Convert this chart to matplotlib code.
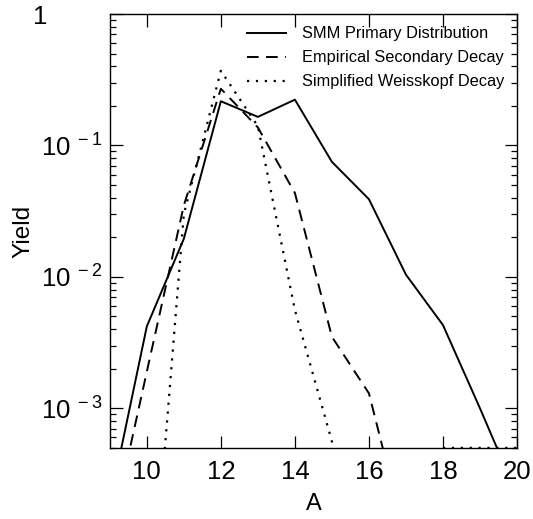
import numpy as np
import matplotlib
matplotlib.use("Agg")
import matplotlib.pyplot as plt
from matplotlib.ticker import FixedLocator, FixedFormatter, LogLocator, NullFormatter
from matplotlib.transforms import ScaledTranslation

plt.rcParams['font.family'] = ['Liberation Sans', 'DejaVu Sans']
plt.rcParams['mathtext.fontset'] = 'custom'
plt.rcParams['mathtext.rm'] = 'Liberation Sans'
plt.rcParams['mathtext.it'] = 'Liberation Sans'

# mass number A
A = [9, 10, 11, 12, 13, 14, 15, 16, 17, 18, 19, 20]
nan = np.nan
smm_primary = [1.9e-4, 4.2e-3, 1.95e-2, 0.217, 0.165, 0.223, 0.075, 0.039, 0.0104, 4.3e-3, 1.0e-3, 2.2e-4]
empirical = [1.0e-4, 1.9e-3, 0.035, 0.27, 0.137, 0.0435, 3.5e-3, 1.3e-3, 1.0e-4, nan, nan, nan]
weisskopf = [nan, 1.0e-5, 0.03, 0.37, 0.14, 5.6e-3, 5.6e-4, 1.0e-5, nan, 5e-4, 5e-4, 5e-4]

y_ticks = [1e-3, 1e-2, 1e-1, 1]
y_ticklabels = [r"$10^{\,\,-3}$", r"$10^{\,\,-2}$", r"$10^{\,\,-1}$", "1"]
x_ticks = [10, 12, 14, 16, 18, 20]

fig = plt.figure(figsize=(5.33, 5.19), dpi=100)
ax = fig.add_axes([0.206, 0.137, 0.764, 0.836])

lw = 1.4
ax.plot(A, smm_primary, color="black", linestyle="-", lw=lw, label="SMM Primary Distribution")
ax.plot(A, empirical, color="black", linestyle=(0, (6, 3.8)), lw=lw, label="Empirical Secondary Decay")
ax.plot(A, weisskopf, color="black", linestyle=(0, (1, 3.0)), lw=lw + 0.2, label="Simplified Weisskopf Decay")

ax.set_yscale("log")
ax.set_xlim(9, 20)
ax.set_ylim(5e-4, 1)

ax.xaxis.set_major_locator(FixedLocator(x_ticks))
ax.yaxis.set_major_locator(FixedLocator(y_ticks))
ax.yaxis.set_major_formatter(FixedFormatter(y_ticklabels))
ax.yaxis.set_minor_locator(LogLocator(base=10, subs=np.arange(2, 10)))
ax.yaxis.set_minor_formatter(NullFormatter())

ax.tick_params(which="both", direction="in", top=True, right=True, width=0.9, labelsize=18.5)
ax.tick_params(which="major", length=9)
ax.tick_params(which="minor", length=4.5)
ax.tick_params(axis="x", pad=9)
ax.tick_params(axis="y", pad=5)
for s in ax.spines.values():
    s.set_linewidth(1.0)

ax.set_xlabel("A", fontsize=17)
ax.set_ylabel("Yield", fontsize=17.5)
ax.xaxis.set_label_coords(0.5, -0.105)
ax.yaxis.set_label_coords(-0.185, 0.5)

ax.legend(loc="upper right", frameon=False, fontsize=11.8, handlelength=2.4,
          handletextpad=1.0, labelspacing=0.55, borderaxespad=0.35)

# the "1" label sits further left in the original
fig.canvas.draw()
for tick in ax.yaxis.get_major_ticks():
    if tick.get_loc() == 1:
        tick.label1.set_transform(tick.label1.get_transform()
                                  + ScaledTranslation(-0.55, 0, fig.dpi_scale_trans))

plt.savefig("out.png", dpi=100)
